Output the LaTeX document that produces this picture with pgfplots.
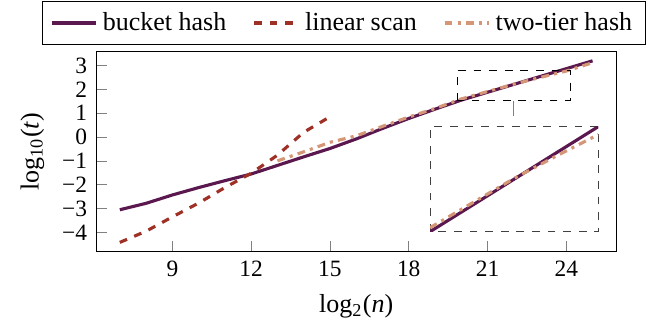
\documentclass[border=0pt]{standalone}
\usepackage{fontspec}
\setmainfont{Liberation Serif}
\usepackage{pgfplots}
\usepackage{pgfplotstable}
\pgfplotsset{compat=1.18}
\definecolor{cpurple}{RGB}{90,24,78}
\definecolor{cred}{RGB}{158,48,38}
\definecolor{ctan}{RGB}{212,150,118}

\pgfplotstableread{
x y
7 -3.05
8 -2.78
9 -2.43
10 -2.12
11 -1.83
12 -1.55
13 -1.19
14 -0.83
15 -0.48
16 -0.08
17 0.36
18 0.78
19 1.17
20 1.55
21 1.88
22 2.21
23 2.54
24 2.87
25 3.20
}\bucket

\pgfplotstableread{
x y
7 -4.42
8 -3.95
9 -3.35
10 -2.77
11 -2.12
12 -1.52
13 -0.76
14 0.20
15 0.85
}\linear

\pgfplotstableread{
x y
13 -1.00
14 -0.62
15 -0.22
16 0.05
17 0.45
18 0.84
19 1.20
20 1.60
21 1.91
22 2.22
23 2.50
24 2.77
25 3.12
}\twotier

\begin{document}
\begin{tikzpicture}
\begin{axis}[
  name=main,
  at={(0,0)}, anchor=south west,
  scale only axis, width=200pt, height=76.9pt,
  xmin=6.1, xmax=25.9, ymin=-4.81, ymax=3.58,
  xtick={9,12,15,18,21,24},
  xticklabels={9,12,15,18,21,24},
  ytick={-4,-3,-2,-1,0,1,2,3},
  yticklabels={−4,−3,−2,−1,0,1,2,3},
  tick pos=left,
  tick label style={font=\small},
  xlabel={log\textsubscript{2}(\textit{n})},
  ylabel={log\textsubscript{10}(\textit{t})},
  legend columns=3,
  legend cell align=left,
  legend style={at={(-0.1045,1.034)}, anchor=south west, draw=black,
    /tikz/every even column/.append style={column sep=8pt}},
]
\addplot[cpurple, line width=1.2pt] table[x=x,y=y] {\bucket};
\addlegendentry{bucket hash}
\addplot[cred, line width=1.2pt, dashed] table[x=x,y=y] {\linear};
\addlegendentry{linear scan}
\addplot[ctan, line width=1.2pt, dashdotted] table[x=x,y=y] {\twotier};
\addlegendentry{two-tier hash}
\draw[black, dashed, thin] (axis cs:19.84,1.52) rectangle (axis cs:24.16,2.79);
\coordinate (zb) at (axis cs:22,1.52);
\end{axis}
\draw[gray, thin] (zb) -- ++(0,-5.8pt);
\begin{axis}[
  name=inset,
  at={(128.4pt,7.7pt)}, anchor=south west,
  scale only axis, width=64.7pt, height=40.4pt,
  xmin=20, xmax=24, ymin=1.55, ymax=2.87,
  ticks=none,
  axis line style={dashed, black!75},
  axis background/.style={fill=white},
]
\addplot[cpurple, line width=1.2pt, restrict x to domain=20:24] table[x=x,y=y] {\bucket};
\addplot[ctan, line width=1.2pt, dashdotted, restrict x to domain=20:24] table[x=x,y=y] {\twotier};
\end{axis}
\pgfresetboundingbox
\path[use as bounding box] (-37pt,-29.7pt) rectangle (215.3pt,96.8pt);
\end{tikzpicture}
\end{document}
